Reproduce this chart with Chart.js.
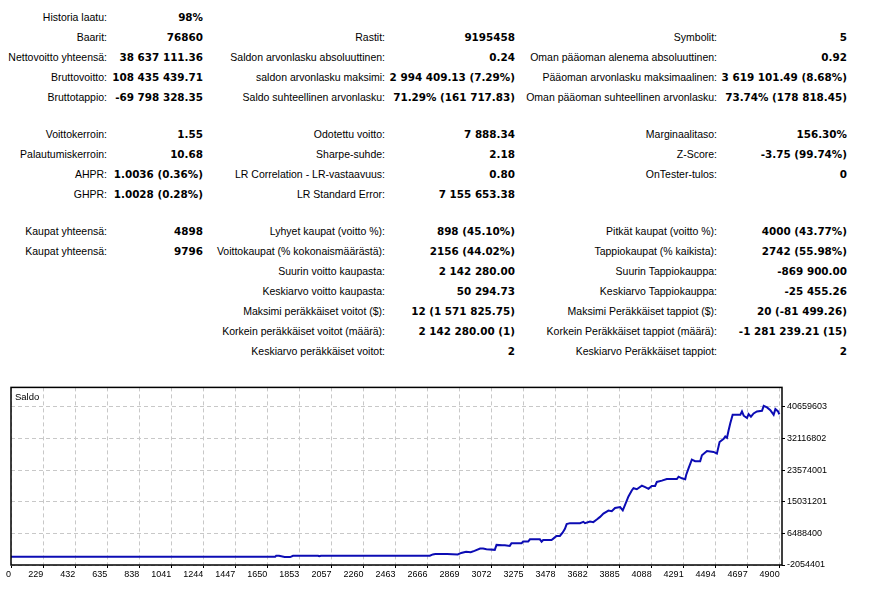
<!DOCTYPE html>
<html>
<head>
<meta charset="utf-8">
<script src="https://cdn.jsdelivr.net/npm/chart.js@4.4.1/dist/chart.umd.min.js"></script>
<style>
  html, body { margin: 0; padding: 0; background: #fff; }
  body { width: 875px; height: 591px; position: relative; overflow: hidden; }
  .lbl, .val { position: absolute; white-space: nowrap; text-align: right; line-height: 14px; color: #000; }
  .lbl { font: 10.5px "Liberation Sans", Arial, sans-serif; }
  .val { font: bold 10.4px "DejaVu Sans", sans-serif; }
</style>
</head>
<body>
<div id="stats"></div>
<canvas id="saldo-chart" width="875" height="211"></canvas>

<script>
// trade number / balance points
const tradeNo = [
    0, 1700, 1706, 1724, 1760, 1795, 1813, 1972, 1980, 1990,
    2681, 2700, 2716, 2790, 2858, 2880, 2911, 2940, 2964, 3000,
    3019, 3040, 3093, 3104, 3140, 3157, 3188, 3199, 3263, 3273,
    3305, 3316, 3379, 3390, 3400, 3453, 3464, 3485, 3506, 3523,
    3538, 3549, 3570, 3634, 3655, 3665, 3697, 3718, 3740, 3761,
    3782, 3814, 3835, 3856, 3888, 3905, 3920, 3941, 3962, 3973,
    3994, 4026, 4047, 4068, 4089, 4110, 4121, 4153, 4184, 4248,
    4259, 4280, 4301, 4307, 4322, 4343, 4364, 4396, 4407, 4439,
    4481, 4502, 4519, 4545, 4555, 4566, 4576, 4587, 4602, 4651,
    4661, 4672, 4693, 4703, 4718, 4735, 4756, 4788, 4799, 4820,
    4841, 4862, 4873, 4890, 4898
];
const balance = [
    200000, 200000, 437000, 437000, 81000, 81000, 437000, 437000, 300000, 437000,
    437000, 793000, 882000, 882000, 793000, 1200000, 1505000, 1400000, 1772000, 2395000,
    2395000, 2217000, 2039000, 3374000, 3285000, 3285000, 3107000, 3819000, 3819000, 4264000,
    4264000, 4887000, 4887000, 4264000, 4709000, 4709000, 5065000, 5777000, 5777000, 6666000,
    7734000, 8980000, 9247000, 9247000, 9603000, 9247000, 9692000, 9514000, 10226000, 10938000,
    11828000, 12628000, 12450000, 13340000, 13607000, 12717000, 14230000, 16455000, 18057000, 18680000,
    18413000, 19392000, 18947000, 18502000, 19303000, 19303000, 20370000, 20726000, 21171000, 21171000,
    21794000, 21350000, 21082000, 22239000, 24019000, 26421000, 25977000, 25977000, 27579000, 28736000,
    28468000, 28024000, 31138000, 32028000, 32650000, 32294000, 34252000, 36210000, 38524000, 38524000,
    39414000, 38257000, 37633000, 38702000, 37989000, 38880000, 39414000, 39592000, 40926000, 40482000,
    39770000, 38524000, 40037000, 39414000, 38637111
];
const xTicks = [0, 229, 432, 635, 838, 1041, 1244, 1447, 1650, 1853, 2057, 2260, 2463,
    2666, 2869, 3072, 3275, 3478, 3682, 3885, 4088, 4291, 4494, 4697, 4900];
const yTicks = [-2054401, 6488400, 15031201, 23574001, 32116802, 40659603];

// report table: [label, value] per column, rows at fixed heights
const rowTops = [18, 38, 58, 78, 98, 135, 155, 175, 195, 232, 252, 272, 292, 312, 332, 352];
const col1 = [
    ['Historia laatu:', '98%'], ['Baarit:', '76860'], ['Nettovoitto yhteensä:', '38 637 111.36'],
    ['Bruttovoitto:', '108 435 439.71'], ['Bruttotappio:', '-69 798 328.35'],
    ['Voittokerroin:', '1.55'], ['Palautumiskerroin:', '10.68'], ['AHPR:', '1.0036 (0.36%)'], ['GHPR:', '1.0028 (0.28%)'],
    ['Kaupat yhteensä:', '4898'], ['Kaupat yhteensä:', '9796']
];
const col2 = [
    ['', ''], ['Rastit:', '9195458'], ['Saldon arvonlasku absoluuttinen:', '0.24'],
    ['saldon arvonlasku maksimi:', '2 994 409.13 (7.29%)'], ['Saldo suhteellinen arvonlasku:', '71.29% (161 717.83)'],
    ['Odotettu voitto:', '7 888.34'], ['Sharpe-suhde:', '2.18'], ['LR Correlation - LR-vastaavuus:', '0.80'], ['LR Standard Error:', '7 155 653.38'],
    ['Lyhyet kaupat (voitto %):', '898 (45.10%)'], ['Voittokaupat (% kokonaismäärästä):', '2156 (44.02%)'],
    ['Suurin voitto kaupasta:', '2 142 280.00'], ['Keskiarvo voitto kaupasta:', '50 294.73'],
    ['Maksimi peräkkäiset voitot ($):', '12 (1 571 825.75)'], ['Korkein peräkkäiset voitot (määrä):', '2 142 280.00 (1)'],
    ['Keskiarvo peräkkäiset voitot:', '2']
];
const col3 = [
    ['', ''], ['Symbolit:', '5'], ['Oman pääoman alenema absoluuttinen:', '0.92'],
    ['Pääoman arvonlasku maksimaalinen:', '3 619 101.49 (8.68%)'], ['Oman pääoman suhteellinen arvonlasku:', '73.74% (178 818.45)'],
    ['Marginaalitaso:', '156.30%'], ['Z-Score:', '-3.75 (99.74%)'], ['OnTester-tulos:', '0'], ['', ''],
    ['Pitkät kaupat (voitto %):', '4000 (43.77%)'], ['Tappiokaupat (% kaikista):', '2742 (55.98%)'],
    ['Suurin Tappiokauppa:', '-869 900.00'], ['Keskiarvo Tappiokauppa:', '-25 455.26'],
    ['Maksimi Peräkkäiset tappiot ($):', '20 (-81 499.26)'], ['Korkein Peräkkäiset tappiot (määrä):', '-1 281 239.21 (15)'],
    ['Keskiarvo Peräkkäiset tappiot:', '2']
];

const stats = document.getElementById('stats');
function addColumn(rows, labelRight, valueRight) {
    rows.forEach(function(r, i) {
        if (!r[0]) return;
        const top = rowTops[i] - 7;
        const l = document.createElement('div');
        l.className = 'lbl';
        l.textContent = r[0];
        l.style.top = top + 'px';
        l.style.right = (875 - labelRight) + 'px';
        stats.appendChild(l);
        const v = document.createElement('div');
        v.className = 'val';
        v.textContent = r[1];
        v.style.top = top + 'px';
        v.style.right = (875 - valueRight) + 'px';
        stats.appendChild(v);
    });
}
addColumn(col1, 107, 203);
addColumn(col2, 385, 515);
addColumn(col3, 717, 847);

const canvas = document.getElementById('saldo-chart');
canvas.style.position = 'absolute';
canvas.style.left = '0px';
canvas.style.top = '380px';

// black box round the plot area and the series name in its corner
const framePlugin = {
    id: 'frame',
    afterDraw(chart) {
        const a = chart.chartArea, ctx = chart.ctx;
        ctx.save();
        ctx.strokeStyle = '#000';
        ctx.lineWidth = 1.5;
        ctx.strokeRect(a.left, a.top, a.right - a.left, a.bottom - a.top);
        ctx.font = '9.5px "Liberation Sans", Arial, sans-serif';
        ctx.fillStyle = '#000';
        ctx.textBaseline = 'top';
        ctx.fillText(chart.data.datasets[0].label, a.left + 4, a.top + 5);
        ctx.restore();
    }
};

const points = tradeNo.map(function(t, i) { return {x: t, y: balance[i]}; });

new Chart(canvas, {
    type: 'line',
    data: {
        datasets: [{
            label: 'Saldo',
            data: points,
            borderColor: '#0c0cb4',
            borderWidth: 2,
            pointRadius: 0,
            tension: 0,
            fill: false
        }]
    },
    options: {
        responsive: false,
        animation: false,
        layout: { padding: { left: 11, top: 6, right: 0, bottom: 0 } },
        plugins: { legend: { display: false }, tooltip: { enabled: false } },
        scales: {
            x: {
                type: 'linear',
                min: 24,
                max: 4915,
                afterBuildTicks: function(scale) {
                    scale.ticks = xTicks.map(function(v) { return {value: Math.max(v, scale.min)}; });
                },
                afterFit: function(scale) { scale.height = 26; },
                ticks: {
                    autoSkip: false,
                    maxRotation: 0,
                    align: 'end',
                    padding: 1,
                    color: '#000',
                    font: { family: 'Liberation Sans', size: 9 },
                    callback: function(v, i) { return String(xTicks[i]); }
                },
                grid: { color: '#c8c8c8', tickColor: '#000', tickLength: 3, tickBorderDash: [] },
                border: { display: false, dash: [4, 3] }
            },
            y: {
                type: 'linear',
                position: 'right',
                min: yTicks[0],
                max: 45900000,
                afterBuildTicks: function(scale) {
                    scale.ticks = yTicks.map(function(v) { return {value: v}; });
                },
                afterFit: function(scale) { scale.width = 93; },
                ticks: {
                    padding: 2,
                    color: '#000',
                    font: { family: 'Liberation Sans', size: 9 },
                    callback: function(v) { return String(v); }
                },
                grid: { color: '#c8c8c8', tickColor: '#000', tickLength: 3, tickBorderDash: [] },
                border: { display: false, dash: [4, 3] }
            }
        }
    },
    plugins: [framePlugin]
});
</script>
</body>
</html>
